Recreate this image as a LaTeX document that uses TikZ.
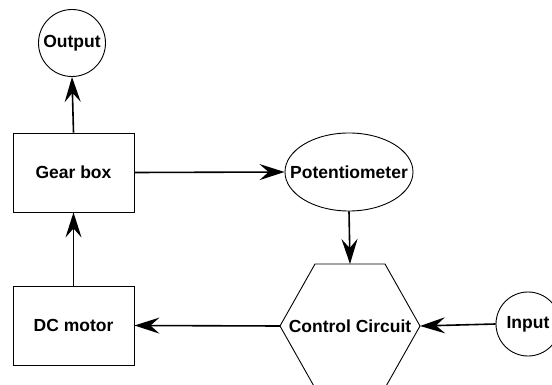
\documentclass[tikz,border=0pt]{standalone}
\usepackage{fontspec}
\setmainfont{Liberation Sans}
\usetikzlibrary{arrows.meta,shapes.geometric}
\begin{document}
\begin{tikzpicture}[x=1pt,y=-1pt,
  lbl/.style={font=\bfseries\fontsize{17.5}{20}\selectfont},
  blockbox/.style={draw,line width=0.9pt,minimum width=121pt,minimum height=79pt,inner sep=0pt,lbl},
  outline/.style={draw,line width=0.9pt,inner sep=0pt},
  flow/.style={line width=1.6pt,-{Stealth[length=25pt,width=16pt,inset=9pt]}}]
\useasboundingbox (0,0) rectangle (552,385);
\clip (0,0) rectangle (552,385);
% blocks
\node[outline,circle,minimum size=67pt] (out) at (72,43) {};
\node[lbl] at (out) {Output};
\node[blockbox] (gear) at (73.5,172.5) {Gear box};
\node[blockbox] (motor) at (73.5,325.5) {DC motor};
\node[outline,ellipse,minimum width=128pt,minimum height=78pt] (pot) at (349,172) {};
\node[lbl] at (pot) {Potentiometer};
\node[outline,circle,minimum size=64pt] (in) at (528,324) {};
\node[lbl] at (in) {Input};
% control circuit hexagon (lower part runs off the page)
\coordinate (hexT) at (350,264);
\coordinate (hexL) at (280,326);
\coordinate (hexR) at (420,326);
\draw[line width=0.9pt] (315,264) -- (385,264) -- (hexR) -- (385,388) -- (315,388) -- (hexL) -- cycle;
\node[lbl] (cc) at (350,326) {Control Circuit};
% signal flow
\draw[flow] (gear.north) -- (out.south);
\draw[flow] (gear.east) -- (pot.west);
\draw[flow] (pot.south) -- (hexT);
\draw[flow] (in.west) -- (hexR);
\draw[flow] (hexL) -- (motor.east);
\draw[flow] (motor.north) -- (gear.south);
\end{tikzpicture}
\end{document}
